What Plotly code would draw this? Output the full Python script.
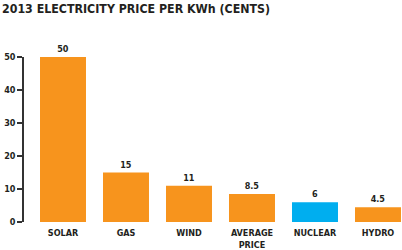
import plotly.graph_objects as go

categories = ["SOLAR", "GAS", "WIND", "AVERAGE<br>PRICE", "NUCLEAR", "HYDRO"]
values = [50, 15, 11, 8.5, 6, 4.5]
labels = ["50", "15", "11", "8.5", "6", "4.5"]
colors = ["#F7941D", "#F7941D", "#F7941D", "#F7941D", "#00AEEF", "#F7941D"]
y_ticks = [0, 10, 20, 30, 40, 50]

FONT = "DejaVu Sans Condensed"
INK = "#231F20"

fig = go.Figure(go.Bar(
    x=list(range(len(categories))),
    y=values,
    marker=dict(color=colors, line=dict(width=0)),
    text=[f"<b>{t}</b>" for t in labels],
    textposition="outside",
    textfont=dict(family=FONT, size=9, color=INK),
    cliponaxis=False,
    width=0.73,
))

fig.update_layout(
    width=402, height=250,
    margin=dict(l=24, r=0, t=57, b=26),
    paper_bgcolor="white", plot_bgcolor="white",
    showlegend=False,
    title=dict(text="<b>2013 ELECTRICITY PRICE PER KWh (CENTS)</b>",
               x=0.005, xanchor="left", y=0.965, yanchor="middle",
               font=dict(family=FONT, size=12.3, color=INK)),
    xaxis=dict(range=[-0.619, 5.381], tickmode="array",
               tickvals=list(range(len(categories))),
               ticktext=[f"<b>{c}</b>" for c in categories],
               tickfont=dict(family=FONT, size=9, color=INK),
               ticklabelstandoff=4,
               showgrid=False, zeroline=False, showline=False, ticks=""),
    yaxis=dict(range=[0, 50], tickvals=y_ticks,
               ticktext=[f"<b>{v}</b>" for v in y_ticks],
               tickfont=dict(family=FONT, size=9, color=INK),
               showgrid=False, zeroline=False, showline=True,
               linecolor="#333333", linewidth=1.5,
               ticks="outside", ticklen=5, tickcolor="#333333", tickwidth=1.5),
)

fig.write_html("out.html")
